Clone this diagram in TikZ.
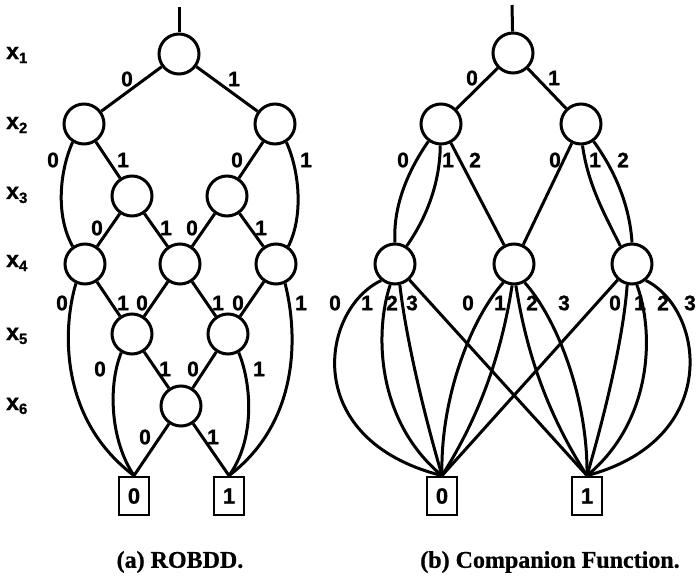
\documentclass[tikz,border=0pt]{standalone}
\usepackage{fontspec}
\setmainfont{Liberation Sans}[BoldFeatures={FakeBold=1}]
\newfontfamily\capfont{Liberation Serif}[BoldFeatures={FakeBold=0.8}]
\tikzset{
  bdd/.style={circle, draw, line width=3pt, minimum size=40pt, inner sep=0pt},
  term/.style={rectangle, draw, line width=2.8pt, minimum width=30pt, minimum height=38pt, inner sep=0pt, font=\fontsize{22}{22}\selectfont\bfseries},
  lab/.style={inner sep=0pt, font=\fontsize{21}{21}\selectfont\bfseries},
  lvl/.style={inner sep=0pt, anchor=west, font=\fontsize{23}{23}\selectfont\bfseries},
  conn/.style={line width=3pt},
  captxt/.style={inner sep=0pt, font=\capfont\fontsize{24}{24}\selectfont\bfseries}
}
\newcommand{\subx}[1]{x\raisebox{-4pt}{\fontsize{15}{15}\selectfont #1}}
\begin{document}
\begin{tikzpicture}[x=1pt,y=-1pt]
\useasboundingbox (0,0) rectangle (699,578);
% ---------- level labels
\node[lvl] (v1) at (6,55) {\subx{1}};
\node[lvl] (v2) at (6,125) {\subx{2}};
\node[lvl] (v3) at (6,195) {\subx{3}};
\node[lvl] (v4) at (6,263) {\subx{4}};
\node[lvl] (v5) at (6,336) {\subx{5}};
\node[lvl] (v6) at (6,406) {\subx{6}};
% ---------- left diagram (ROBDD)
\coordinate (topA) at (179,7);
\node[bdd] (A1) at (179,54) {};
\node[bdd] (A2L) at (84,124) {};
\node[bdd] (A2R) at (275,124) {};
\node[bdd] (A3L) at (132,196) {};
\node[bdd] (A3R) at (227,196) {};
\node[bdd] (A4L) at (85,264) {};
\node[bdd] (A4M) at (180,264) {};
\node[bdd] (A4R) at (276,264) {};
\node[bdd] (A5L) at (132,334) {};
\node[bdd] (A5R) at (228,334) {};
\node[bdd] (A6) at (181,406) {};
\node[term] (T0a) at (134,496) {0};
\node[term] (T1a) at (229,496) {1};
\draw[conn] (topA) -- (A1);
\draw[conn] (A1) -- (A2L);
\draw[conn] (A1) -- (A2R);
\draw[conn] (A2L) -- (A3L);
\draw[conn] (A2R) -- (A3R);
\draw[conn] (A3L) -- (A4L);
\draw[conn] (A3L) -- (A4M);
\draw[conn] (A3R) -- (A4M);
\draw[conn] (A3R) -- (A4R);
\draw[conn] (A4L) -- (A5L);
\draw[conn] (A4M) -- (A5L);
\draw[conn] (A4M) -- (A5R);
\draw[conn] (A4R) -- (A5R);
\draw[conn] (A5L) -- (A6);
\draw[conn] (A5R) -- (A6);
\draw[conn] (A6) -- (T0a.north);
\draw[conn] (A6) -- (T1a.north);
\draw[conn] (A2L.238) .. controls (60,170) and (55,215) .. (A4L.125);
\draw[conn] (A2R.302) .. controls (299,170) and (304,215) .. (A4R.55);
\draw[conn] (A4L.245) .. controls (62,330) and (60,420) .. (T0a.north);
\draw[conn] (A4R.295) .. controls (297,330) and (302,420) .. (T1a.north);
\draw[conn] (A5L.240) .. controls (108,385) and (110,440) .. (T0a.north);
\draw[conn] (A5R.300) .. controls (252,385) and (255,440) .. (T1a.north);
% labels left
\node[lab] (la1) at (127,79) {0};
\node[lab] (la2) at (234,79) {1};
\node[lab] (la3) at (53,160) {0};
\node[lab] (la4) at (123,160) {1};
\node[lab] (la5) at (237,160) {0};
\node[lab] (la6) at (306,160) {1};
\node[lab] (la7) at (97,228) {0};
\node[lab] (la8) at (166,228) {1};
\node[lab] (la9) at (192,228) {0};
\node[lab] (la10) at (261,228) {1};
\node[lab] (la11) at (62,303) {0};
\node[lab] (la12) at (123,303) {1};
\node[lab] (la13) at (142,303) {0};
\node[lab] (la14) at (218,303) {1};
\node[lab] (la15) at (238,303) {0};
\node[lab] (la16) at (301,303) {1};
\node[lab] (la17) at (100,369) {0};
\node[lab] (la18) at (165,369) {1};
\node[lab] (la19) at (193,369) {0};
\node[lab] (la20) at (259,369) {1};
\node[lab] (la21) at (145,437) {0};
\node[lab] (la22) at (213,437) {1};
% ---------- right diagram (companion function)
\coordinate (topB) at (512,5);
\node[bdd] (B1) at (513,53) {};
\node[bdd] (B2L) at (441,124) {};
\node[bdd] (B2R) at (581,124) {};
\node[bdd] (B4L) at (395,264) {};
\node[bdd] (B4M) at (514,264) {};
\node[bdd] (B4R) at (632,264) {};
\node[term] (T0b) at (442,496) {0};
\node[term] (T1b) at (587,496) {1};
\draw[conn] (topB) -- (B1);
\draw[conn] (B1) -- (B2L);
\draw[conn] (B1) -- (B2R);
\draw[conn] (B2L.234) .. controls (405,175) and (393,210) .. (B4L.north);
\draw[conn] (B2L.268) .. controls (440,185) and (425,220) .. (B4L.57);
\draw[conn] (B2L) -- (B4M);
\draw[conn] (B2R) -- (B4M);
\draw[conn] (B2R.274) .. controls (588,185) and (605,215) .. (B4R.123);
\draw[conn] (B2R.306) .. controls (618,175) and (630,210) .. (B4R.north);
% x4 left
\draw[conn] (B4L.230) .. controls (320,310) and (300,440) .. (T0b.north);
\draw[conn] (B4L.257) .. controls (375,330) and (375,420) .. (T0b.north);
\draw[conn] (B4L.283) .. controls (405,330) and (420,400) .. (T0b.north);
\draw[conn] (B4L) -- (T1b.north);
% x4 middle
\draw[conn] (B4M.240) .. controls (470,320) and (440,400) .. (T0b.north);
\draw[conn] (B4M.265) .. controls (505,330) and (490,400) .. (T0b.north);
\draw[conn] (B4M.275) .. controls (523,330) and (538,400) .. (T1b.north);
\draw[conn] (B4M.300) .. controls (558,320) and (588,400) .. (T1b.north);
% x4 right
\draw[conn] (B4R) -- (T0b.north);
\draw[conn] (B4R.257) .. controls (624,330) and (609,400) .. (T1b.north);
\draw[conn] (B4R.283) .. controls (654,330) and (654,420) .. (T1b.north);
\draw[conn] (B4R.310) .. controls (705,310) and (722,440) .. (T1b.north);
% labels right
\node[lab] (lb1) at (472,78) {0};
\node[lab] (lb2) at (554,78) {1};
\node[lab] (lb3) at (403,160) {0};
\node[lab] (lb4) at (448,160) {1};
\node[lab] (lb5) at (475,160) {2};
\node[lab] (lb6) at (555,160) {0};
\node[lab] (lb7) at (595,160) {1};
\node[lab] (lb8) at (623,160) {2};
\node[lab] (lb9) at (335,303) {0};
\node[lab] (lb10) at (367,303) {1};
\node[lab] (lb11) at (392,303) {2};
\node[lab] (lb12) at (412,303) {3};
\node[lab] (lb13) at (468,303) {0};
\node[lab] (lb14) at (500,303) {1};
\node[lab] (lb15) at (532,303) {2};
\node[lab] (lb16) at (564,303) {3};
\node[lab] (lb17) at (615,303) {0};
\node[lab] (lb18) at (640,303) {1};
\node[lab] (lb19) at (663,303) {2};
\node[lab] (lb20) at (690,303) {3};
% captions
\node[captxt] (capA) at (180,562) {(a) ROBDD.};
\node[captxt] (capB) at (550,562) {(b) Companion Function.};
\end{tikzpicture}
\end{document}
